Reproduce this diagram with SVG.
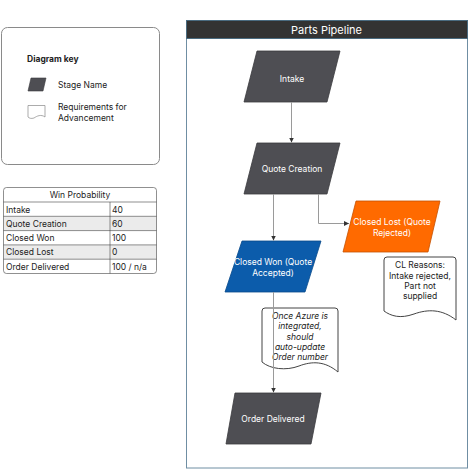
<svg xmlns="http://www.w3.org/2000/svg" width="468" height="469" viewBox="0 0 468 469">
<defs>
<style>
.t{font-family:Inter,"Liberation Sans",sans-serif;font-size:8.5px;fill:#222}
.w{font-family:Inter,"Liberation Sans",sans-serif;font-size:8.5px;fill:#fff;text-anchor:middle}
.c{text-anchor:middle}
.stage{fill:#4e4e53;stroke:#3a3a3e;stroke-width:0.8;stroke-linejoin:round}
.doc{fill:#fff;stroke:#444;stroke-width:1}
.conn{fill:none;stroke:#9a9a9a;stroke-width:1}
.grid{stroke:#444;stroke-width:0.6;fill:none}
</style>
<marker id="ah" viewBox="0 0 6 6" refX="6" refY="3" markerWidth="5" markerHeight="5" orient="auto" markerUnits="userSpaceOnUse">
<path d="M0,0 L6,3 L0,6 Z" fill="#333"/>
</marker>
</defs>
<rect width="468" height="469" fill="#fff"/>

<g id="legend">
<rect x="1.5" y="27.5" width="158" height="137" rx="6" fill="#fff" stroke="#8a8a8a" stroke-width="1"/>
<text class="t" x="27" y="62" style="font-weight:bold">Diagram key</text>
<polygon points="31,78 46,78 43,91 28,91" fill="#4e4e53" stroke="#3a3a3e" stroke-width="0.6" stroke-linejoin="round"/>
<text class="t" x="58" y="88">Stage Name</text>
<path d="M28,105.5 H45 V117 C41,114 37,116 34,118 C31,119 29,118 28,117 Z" fill="#fff" stroke="#888" stroke-width="0.7"/>
<text class="t" x="58" y="110">Requirements for</text>
<text class="t" x="58" y="121">Advancement</text>
</g>

<g id="win-probability-table">
<rect x="3.5" y="187.5" width="153" height="86" rx="3" fill="#fff"/>
<rect x="3.5" y="216.3" width="153" height="14.3" fill="#ebebeb"/>
<rect x="3.5" y="244.9" width="153" height="14.3" fill="#ebebeb"/>
<rect x="3.5" y="187.5" width="153" height="86" rx="3" class="grid" stroke-width="0.9"/>
<path class="grid" d="M3.5,202 H156.5 M3.5,216.3 H156.5 M3.5,230.6 H156.5 M3.5,244.9 H156.5 M3.5,259.2 H156.5 M110,202 V273.5"/>
<text class="t c" x="80" y="198">Win Probability</text>
<text class="t" x="6" y="213">Intake</text><text class="t" x="112" y="213">40</text>
<text class="t" x="6" y="226.5">Quote Creation</text><text class="t" x="112" y="226.5">60</text>
<text class="t" x="6" y="241">Closed Won</text><text class="t" x="112" y="241">100</text>
<text class="t" x="6" y="255">Closed Lost</text><text class="t" x="112" y="255">0</text>
<text class="t" x="6" y="269.5">Order Delivered</text><text class="t" x="112" y="269.5">100 / n/a</text>
</g>

<g id="parts-pipeline">
<rect x="186.5" y="20.5" width="281" height="447.5" fill="#fff" stroke="#6f8ea3" stroke-width="1"/>
<rect x="186.5" y="20.5" width="281" height="18" fill="#333" stroke="#4a6b80" stroke-width="1"/>
<text x="326.5" y="33.5" style="font-family:Inter,'Liberation Sans',sans-serif;font-size:11px;fill:#fff;text-anchor:middle">Parts Pipeline</text>
</g>

<g id="intake">
<polygon class="stage" points="257,51 340,51 327,102 244,102"/>
<text class="w" x="292" y="82">Intake</text>
</g>
<g id="quote-creation">
<polygon class="stage" points="257,143 340,143 327,194 244,194"/>
<text class="w" x="292" y="171.5">Quote Creation</text>
</g>
<g id="closed-lost">
<polygon points="356,201 440,201 428,252 343,252" fill="#ff6a00" stroke="#c45000" stroke-width="0.8" stroke-linejoin="round"/>
<text class="w" x="392" y="225">Closed Lost (Quote</text>
<text class="w" x="392" y="235.5">Rejected)</text>
</g>
<g id="closed-won">
<polygon points="242,241 321,241 305,292 225,292" fill="#0c5cab" stroke="#094a8a" stroke-width="0.8" stroke-linejoin="round"/>
<text class="w" x="273" y="265">Closed Won (Quote</text>
<text class="w" x="273" y="275.5">Accepted)</text>
</g>
<g id="cl-reasons">
<path class="doc" d="M384,260 Q384,257 387,257 H453 Q456,257 456,260 V320 C442,309 428,309 414,314 C400,319 391,316 384,311 Z"/>
<text class="t c" x="420" y="268">CL Reasons:</text>
<text class="t c" x="420" y="278.5">Intake rejected,</text>
<text class="t c" x="420" y="289">Part not</text>
<text class="t c" x="420" y="299">supplied</text>
</g>
<g id="azure-note">
<path class="doc" d="M262,311 Q262,308 265,308 H335 Q338,308 338,311 V372 C325,361 312,361 299,366 C286,371 270,369 262,362 Z"/>
<text class="t c" x="300" y="319" font-style="italic">Once Azure is</text>
<text class="t c" x="300" y="329" font-style="italic">integrated,</text>
<text class="t c" x="300" y="339.5" font-style="italic">should</text>
<text class="t c" x="300" y="350" font-style="italic">auto-update</text>
<text class="t c" x="300" y="360" font-style="italic">Order number</text>
</g>
<g id="order-delivered">
<polygon class="stage" points="235,393 321,393 311,444 226,444"/>
<text class="w" x="273" y="422">Order Delivered</text>
</g>

<g id="connectors">
<path class="conn" d="M291.5,102 V142.5" marker-end="url(#ah)"/>
<path class="conn" d="M273.5,194 V240.5" marker-end="url(#ah)"/>
<path class="conn" d="M318.5,194 V223.5 H349" marker-end="url(#ah)"/>
<path class="conn" d="M273.5,292 V392.5" marker-end="url(#ah)"/>
</g>
</svg>
